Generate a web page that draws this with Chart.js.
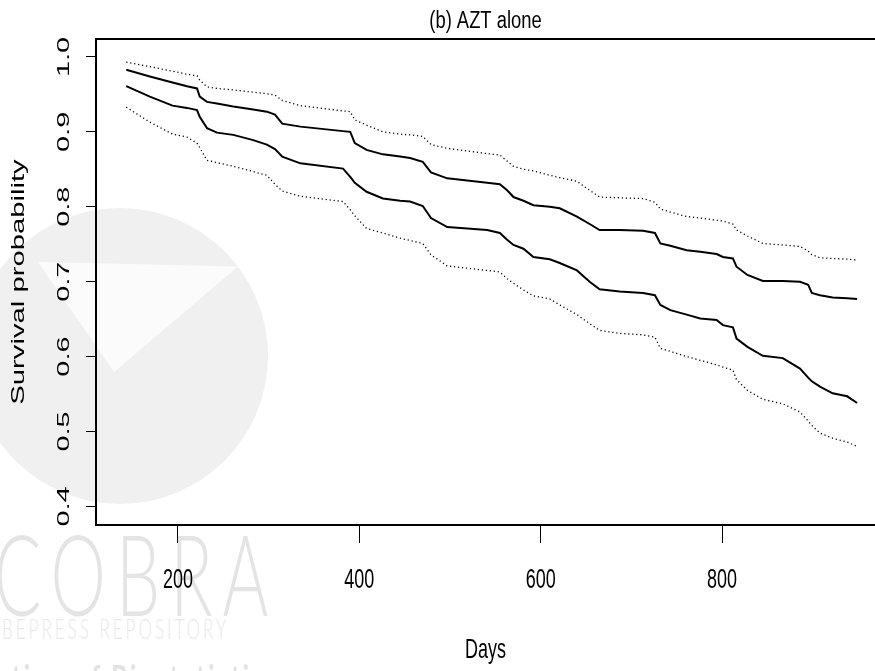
<!DOCTYPE html>
<html>
<head>
<meta charset="utf-8">
<script src="https://cdn.jsdelivr.net/npm/chart.js@4.4.1/dist/chart.umd.min.js"></script>
<style>
  body { margin: 0; background: #fff; overflow: hidden; }
  #wrap { position: relative; width: 875px; height: 671px; overflow: hidden; }
  .wm { position: absolute; color: #e4e4e4; font-family: Lato, "Open Sans", sans-serif; white-space: nowrap; transform-origin: 0 0; }
  #wmCircle { position: absolute; left: -28px; top: 208px; width: 296px; height: 296px; border-radius: 50%; background: #f0f0f0; }
  #wmTri { position: absolute; left: 38px; top: 262px; width: 200px; height: 110px; background: #fbfbfb; clip-path: polygon(0 0, 100% 4%, 38% 100%); }
  #chart { position: absolute; left: 0; top: 0; }
</style>
</head>
<body>
<div id="wrap">
  <div id="wmCircle"></div>
  <div id="wmTri"></div>
  <div class="wm" style="left:-6px;top:506px;font-size:70px;font-weight:300;letter-spacing:10px;transform:scaleY(1.6);">COBRA</div>
  <div class="wm" style="left:2px;top:612px;font-size:17px;font-weight:300;letter-spacing:3px;transform:scaleY(1.6);color:#e9e9e9;">BEPRESS REPOSITORY</div>
  <div class="wm" style="left:-72px;top:655px;font-size:24px;font-weight:700;letter-spacing:3px;transform:scaleY(1.5);color:#e2e2e2;">Collection of Biostatistics</div>
  <canvas id="chart" width="875" height="671"></canvas>
</div>
<script>
// survival curves (days, probability)
const days = [143, 169, 194, 210, 221, 224, 232, 243, 261, 283, 298, 307, 315, 335, 382, 390, 395, 408, 426, 445,
  456, 470, 479, 497, 541, 555, 563, 570, 581, 592, 610, 621, 640, 654, 665, 687, 713, 726, 732, 743,
  761, 776, 794, 801, 812, 816, 828, 845, 867, 886, 895, 899, 908, 922, 938, 949];
const upperBand = [0.993, 0.987, 0.981, 0.977, 0.975, 0.969, 0.960, 0.958, 0.956, 0.953, 0.951, 0.949, 0.942, 0.935, 0.928, 0.927, 0.916, 0.909, 0.900, 0.897,
  0.896, 0.894, 0.883, 0.878, 0.871, 0.869, 0.861, 0.854, 0.850, 0.848, 0.842, 0.839, 0.834, 0.822, 0.813, 0.812, 0.811, 0.806, 0.797, 0.793,
  0.787, 0.785, 0.782, 0.781, 0.777, 0.769, 0.761, 0.751, 0.749, 0.747, 0.741, 0.736, 0.732, 0.731, 0.730, 0.729];
const survivalHigh = [0.983, 0.974, 0.966, 0.961, 0.958, 0.947, 0.940, 0.938, 0.934, 0.930, 0.927, 0.923, 0.911, 0.907, 0.901, 0.900, 0.885, 0.876, 0.870, 0.867,
  0.865, 0.860, 0.846, 0.838, 0.832, 0.830, 0.822, 0.813, 0.808, 0.802, 0.800, 0.798, 0.787, 0.777, 0.769, 0.769, 0.768, 0.765, 0.751, 0.748,
  0.742, 0.740, 0.737, 0.733, 0.731, 0.720, 0.709, 0.701, 0.701, 0.700, 0.696, 0.685, 0.682, 0.679, 0.678, 0.677];
const survivalLow = [0.961, 0.947, 0.935, 0.932, 0.929, 0.920, 0.905, 0.899, 0.896, 0.889, 0.883, 0.877, 0.867, 0.858, 0.851, 0.840, 0.832, 0.820, 0.811, 0.808,
  0.807, 0.801, 0.785, 0.773, 0.769, 0.765, 0.756, 0.749, 0.744, 0.733, 0.730, 0.725, 0.715, 0.700, 0.690, 0.687, 0.685, 0.682, 0.669, 0.662,
  0.656, 0.651, 0.649, 0.642, 0.639, 0.624, 0.613, 0.601, 0.598, 0.584, 0.572, 0.567, 0.560, 0.551, 0.547, 0.538];
const lowerBand = [0.933, 0.913, 0.897, 0.893, 0.885, 0.879, 0.862, 0.859, 0.854, 0.847, 0.842, 0.830, 0.821, 0.814, 0.807, 0.796, 0.788, 0.771, 0.765, 0.758,
  0.755, 0.751, 0.736, 0.721, 0.715, 0.713, 0.704, 0.698, 0.689, 0.681, 0.677, 0.669, 0.656, 0.644, 0.635, 0.631, 0.629, 0.626, 0.611, 0.607,
  0.600, 0.595, 0.589, 0.586, 0.582, 0.569, 0.555, 0.543, 0.537, 0.526, 0.514, 0.508, 0.498, 0.491, 0.486, 0.480];
const dayTicks = [200, 400, 600, 800];
const probTicks = [0.4, 0.5, 0.6, 0.7, 0.8, 0.9, 1.0];

const FONT = "'Liberation Sans', Arial, Helvetica, sans-serif";

// the original figure was stretched vertically, so text is drawn taller than wide
const stretchBySize = { 18.4: 1.26, 18.5: 1.58, 18: 1.56, 17: 1.7 };
const textStretch = {
  id: "textStretch",
  beforeDraw(chart) {
    const ctx = chart.ctx;
    if (ctx._plainFillText) return;
    const plain = ctx.fillText;
    ctx._plainFillText = plain;
    ctx.fillText = function (text, x, y, maxWidth) {
      const m = (this.font.match(/([\d.]+)px/) || [0, "0"])[1];
      const k = stretchBySize[parseFloat(m)] || 1;
      const rotated = Math.abs(this.getTransform().b) > 0.5;
      this.save();
      this.translate(x, y);
      if (rotated) this.scale(k, 1);
      else this.scale(1, k);
      if (maxWidth === undefined) plain.call(this, text, 0, 0);
      else plain.call(this, text, 0, 0, maxWidth);
      this.restore();
    };
  },
};

function series(values) {
  return days.map((d, i) => ({ x: d, y: values[i] }));
}

const solid = { borderColor: "#000", borderWidth: 2, pointRadius: 0, tension: 0, fill: false };
const dotted = { borderColor: "#000", borderWidth: 1.3, borderDash: [1.2, 2.8], pointRadius: 0, tension: 0, fill: false };

new Chart(document.getElementById("chart").getContext("2d"), {
  type: "line",
  data: {
    datasets: [
      { ...dotted, label: "upper", data: series(upperBand) },
      { ...solid, label: "high", data: series(survivalHigh) },
      { ...solid, label: "low", data: series(survivalLow) },
      { ...dotted, label: "lower", data: series(lowerBand) },
    ],
  },
  plugins: [textStretch],
  options: {
    responsive: false,
    animation: false,
    devicePixelRatio: 1,
    layout: { padding: 0 },
    plugins: {
      legend: { display: false },
      tooltip: { enabled: false },
      title: {
        display: true,
        text: "(b) AZT alone",
        fullSize: false,
        color: "#000",
        font: { family: FONT, size: 18.4, weight: "normal" },
        padding: { top: 11, bottom: 5.9 },
      },
    },
    scales: {
      x: {
        type: "linear",
        position: "bottom",
        min: 109.6,
        max: 968.7,
        afterBuildTicks: (scale) => { scale.ticks = dayTicks.map((v) => ({ value: v })); },
        afterFit: (scale) => { scale.height = 146; },
        grid: { display: true, drawOnChartArea: false, drawTicks: true, tickLength: 18, tickColor: "#000", tickWidth: 1 },
        border: { display: true, color: "#000", width: 2 },
        ticks: { color: "#000", font: { family: FONT, size: 18 }, padding: 26.7, maxRotation: 0, minRotation: 0, callback: (v) => String(v) },
        title: { display: true, text: "Days", color: "#000", font: { family: FONT, size: 18 }, padding: { top: 0, bottom: 10 } },
      },
      // top edge of the box only, no ticks (the box is open on the right)
      x2: {
        type: "linear",
        position: "top",
        min: 0,
        max: 1,
        afterBuildTicks: (scale) => { scale.ticks = []; },
        grid: { display: false, drawOnChartArea: false, drawTicks: false },
        border: { display: true, color: "#000", width: 2 },
        ticks: { display: false },
      },
      y: {
        type: "linear",
        min: 0.3752,
        max: 1.024,
        afterBuildTicks: (scale) => { scale.ticks = probTicks.map((v) => ({ value: v })); },
        afterFit: (scale) => { scale.width = 96; },
        grid: { display: true, drawOnChartArea: false, drawTicks: true, tickLength: 10, tickColor: "#000", tickWidth: 1 },
        border: { display: true, color: "#000", width: 2 },
        ticks: { color: "#000", font: { family: FONT, size: 17 }, padding: 10.1, minRotation: 90, maxRotation: 90, crossAlign: "center", callback: (v) => v.toFixed(1) },
        title: { display: true, text: "Survival probability", color: "#000", font: { family: FONT, size: 18.5 }, padding: { top: 7.5, bottom: 0 } },
      },
    },
  },
});
</script>
</body>
</html>
